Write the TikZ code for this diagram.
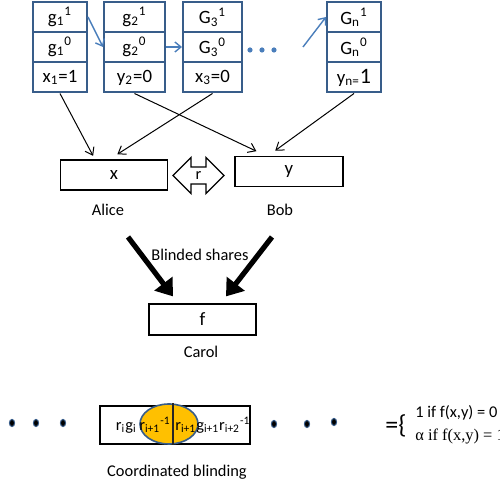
\documentclass[tikz,border=0pt]{standalone}
\usepackage{fontspec}
\setmainfont{Carlito}
\newfontfamily\serifface{Liberation Serif}
\usepackage{tikz}
\usetikzlibrary{
  shapes.geometric,
  shapes.arrows,
  arrows.meta,
  positioning
}
\definecolor{CellBlue}{RGB}{56, 93, 138}
\definecolor{LinkBlue}{RGB}{74, 126, 187}
\definecolor{MaskGold}{RGB}{255, 192, 0}
\newcommand{\keyg}[3]{#1\textsubscript{#2}\textsuperscript{#3}}
\tikzset{
    cell/.style={rectangle, draw=CellBlue, line width=1pt, minimum height=15pt, inner sep=0pt, font=\fontsize{9.4}{11}\selectfont},
    party/.style={rectangle, draw=black, line width=0.6pt, minimum height=15pt, inner sep=0pt, font=\fontsize{9.4}{11}\selectfont},
    tag/.style={inner sep=0pt, font=\fontsize{8.2}{10}\selectfont},
    twoway/.style={double arrow, draw=black, fill=white, line width=0.6pt, minimum height=25.5pt, minimum width=17.5pt, double arrow head extend=4.75pt, inner sep=2pt, font=\fontsize{8.2}{10}\selectfont},
    link/.style={draw=LinkBlue, line width=0.7pt, -{Straight Barb[length=3pt, width=5pt]}},
    feed/.style={draw=black, line width=0.5pt, -{Straight Barb[length=3.5pt, width=5pt]}, shorten >=2pt},
    share/.style={draw=black, line width=2.6pt, -{Triangle[length=8pt, width=11pt]}},
    bead/.style={fill=black, draw=CellBlue, line width=0.5pt}
}

\begin{document}
\begin{tikzpicture}[x=0.5pt, y=-0.5pt]
    \useasboundingbox (0,0) rectangle (500,486);

    % key columns
    \node[cell, minimum width=27pt]   (c1a) at (60,17)    {\keyg{g}{1}{1}};
    \node[cell, minimum width=27pt]   (c1b) at (60,47)    {\keyg{g}{1}{0}};
    \node[cell, minimum width=27pt]   (c1c) at (60,77.5)  {x\textsubscript{1}=1};
    \node[cell, minimum width=30.5pt] (c2a) at (134.5,17) {\keyg{g}{2}{1}};
    \node[cell, minimum width=30.5pt] (c2b) at (134.5,47) {\keyg{g}{2}{0}};
    \node[cell, minimum width=30.5pt] (c2c) at (134.5,77.5) {y\textsubscript{2}=0};
    \node[cell, minimum width=29.5pt] (c3a) at (212.5,17) {\keyg{G}{3}{1}};
    \node[cell, minimum width=29.5pt] (c3b) at (212.5,47) {\keyg{G}{3}{0}};
    \node[cell, minimum width=29.5pt] (c3c) at (212.5,77.5) {x\textsubscript{3}=0};
    \node[cell, minimum width=27pt]   (c4a) at (354,17)   {\keyg{G}{n}{1}};
    \node[cell, minimum width=27pt]   (c4b) at (354,47)   {\keyg{G}{n}{0}};
    \node[cell, minimum width=27pt]   (c4c) at (354,77.5) {y\textsubscript{n=}{\fontsize{11}{12}\selectfont 1}};

    \fill[LinkBlue] (250,50) circle (1.3pt) (262,50) circle (1.3pt) (274,50) circle (1.3pt);
    \coordinate (gapend) at (303,47);
    \draw[link] (c1a.east) -- (c2b.west);
    \draw[link] (c2b.east) -- (c3b.west);
    \draw[link] (gapend) -- (c4a.west);

    % parties
    \node[party, minimum width=53.5pt] (alice) at (114,175)   {x};
    \node[party, minimum width=54pt]   (bob)   at (289,171.5) {y};
    \node[twoway] (swap) at (198.5,175.5) {r};
    \node[tag] (alicename) at (108,210) {Alice};
    \node[tag] (bobname)   at (280,210) {Bob};

    \draw[feed] (c1c.south) -- ([xshift=-9.5pt]alice.north);
    \draw[feed] (c3c.south) -- ([yshift=1.5pt]alice.north);
    \draw[feed] (c2c.south) -- ([xshift=-14.5pt, yshift=1.5pt]bob.north);
    \draw[feed] (c4c.south) -- ([xshift=-8.5pt, yshift=1.5pt]bob.north);

    % carol
    \node[party, minimum width=53.5pt, minimum height=15.5pt] (carol) at (202.5,319.5) {f};
    \node[tag] (carolname) at (201,352) {Carol};
    \node[tag] (shares) at (200,255) {Blinded shares};
    \coordinate (fromalice) at (128,237);
    \coordinate (frombob)   at (272,237);
    \draw[share] (fromalice) -- ([xshift=-14.75pt, yshift=3.5pt]carol.north);
    \draw[share] (frombob) -- ([xshift=11.75pt, yshift=3.5pt]carol.north);

    % coordinated blinding
    \foreach \bx/\by in {12/423, 36/423, 63/423, 274/424, 307/424, 334/422}
        \filldraw[bead] (\bx,\by) ellipse (1.3pt and 1.8pt);
    \node[rectangle, draw=black, line width=0.6pt, minimum width=75pt, minimum height=19pt, inner sep=0pt] (blind) at (175,425) {};
    \filldraw[fill=MaskGold, draw=CellBlue, line width=0.8pt] (169,424) ellipse (14.5pt and 10pt);
    \draw[black!85, line width=1.1pt] ([xshift=-1pt, yshift=1pt]blind.north) -- ([xshift=-1pt]blind.south);
    \node[tag, anchor=east] (lefthalf) at (171,425) {r\textsubscript{i}g\textsubscript{i}\,r\textsubscript{i+1}\textsuperscript{-1}};
    \node[tag, anchor=west] (righthalf) at (175,425) {r\textsubscript{i+1}g\textsubscript{i+1}r\textsubscript{i+2}\textsuperscript{-1}};
    \node[tag] (blindname) at (177,472) {Coordinated blinding};

    \node[inner sep=0pt, font=\fontsize{13}{14}\selectfont] (eqn) at (396,426) {=\{};
    \node[tag, anchor=west] (eqa) at (415,413) {1 if f(x,y) = 0};
    \node[tag, anchor=west] (eqb) at (415,437) {\serifface α if f(x,y) = 1};
\end{tikzpicture}
\end{document}
